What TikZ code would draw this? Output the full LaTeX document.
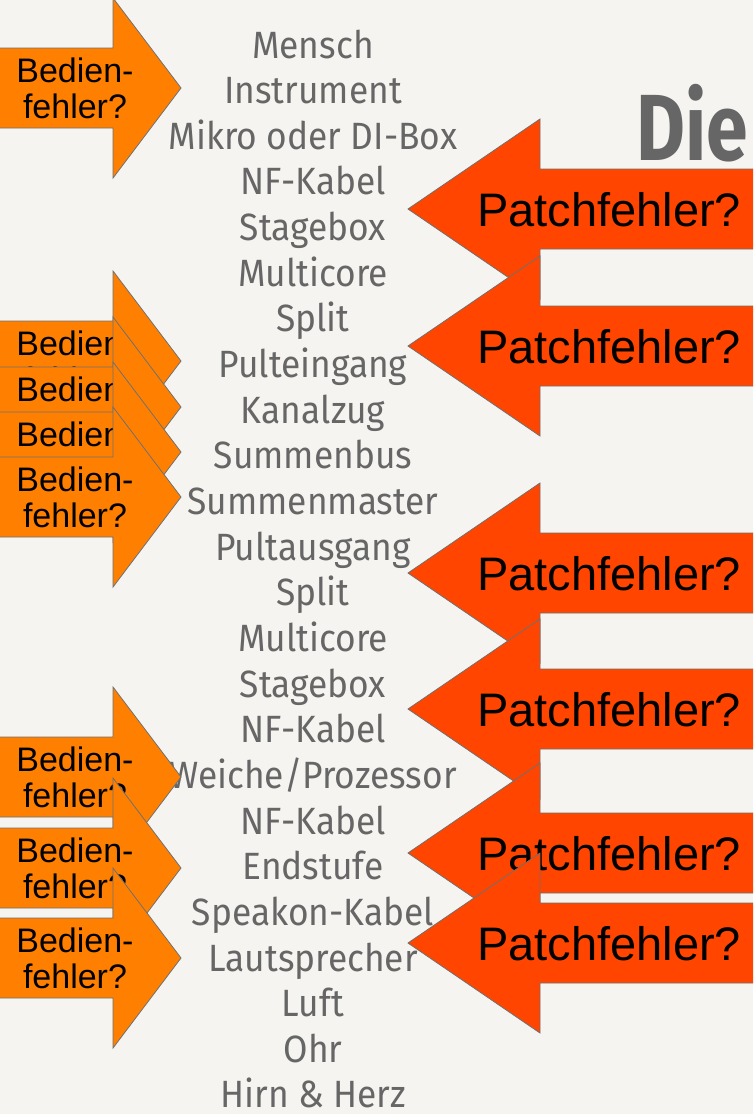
\documentclass[tikz,border=0pt]{standalone}
\usepackage{fontspec}
\setmainfont{Liberation Sans}
\newfontfamily\listfont[FakeStretch=0.93]{Fira Sans}
\newfontfamily\titlefont[FakeStretch=0.8]{Fira Sans}
\definecolor{bgc}{HTML}{F6F4F0}
\definecolor{grayc}{HTML}{666666}
\definecolor{edgec}{HTML}{707070}
\definecolor{bedc}{HTML}{FF8000}
\definecolor{patc}{HTML}{FF4500}
\tikzset{
  listitem/.style={anchor=base, inner sep=0pt, text=grayc, font=\listfont\fontsize{38}{40}\selectfont},
  titletext/.style={anchor=base west, inner sep=0pt, text=grayc, font=\titlefont\bfseries\fontsize{94}{100}\selectfont},
  bedshape/.style={fill=bedc, draw=edgec, line width=0.8pt, line join=miter},
  patshape/.style={fill=patc, draw=edgec, line width=0.8pt, line join=miter},
  bedtext/.style={anchor=base, inner sep=0pt, text=black, font=\fontsize{34}{37}\selectfont},
  pattext/.style={anchor=base west, inner sep=0pt, text=black, font=\fontsize{47}{50}\selectfont},
  bedien/.pic={
    \path[bedshape] (-5,-40) -- (113,-40) -- (113,-90) -- (181,0) -- (113,90) -- (113,40) -- (-5,40) -- cycle;
    \node[bedtext] (-a) at (75,-6) {Bedien-};
    \node[bedtext] (-b) at (75,30) {fehler?};
  },
  patch/.pic={
    \path[patshape] (408,0) -- (540,-90) -- (540,-40) -- (770,-40) -- (770,40) -- (540,40) -- (540,90) -- cycle;
    \node[pattext] (-t) at (477,17) {Patchfehler?};
  }
}
\begin{document}
\begin{tikzpicture}[x=1pt,y=-1pt]
\fill[bgc] (0,0) rectangle (753,1114);
\useasboundingbox (0,0) rectangle (753,1114);
\clip (0,0) rectangle (753,1114);
% list
\foreach \t [count=\i from 0] in {Mensch,Instrument,Mikro oder DI-Box,NF-Kabel,Stagebox,Multicore,Split,Pulteingang,Kanalzug,Summenbus,Summenmaster,Pultausgang,Split,Multicore,Stagebox,NF-Kabel,Weiche/Prozessor,NF-Kabel,Endstufe,Speakon-Kabel,Lautsprecher,Luft,Ohr,Hirn \& Herz}
  \node[listitem] (l\i) at (313,{58+45.65*\i}) {\t};
\node[titletext] (die) at (636,160) {Die};
% Bedienfehler arrows
\pic (b0) at (0,88) {bedien};
\pic (b1) at (0,361) {bedien};
\pic (b2) at (0,407) {bedien};
\pic (b3) at (0,452) {bedien};
\pic (b4) at (0,497) {bedien};
\pic (b5) at (0,777) {bedien};
\pic (b6) at (0,868) {bedien};
\pic (b7) at (0,958) {bedien};
% Patchfehler arrows
\pic (p1) at (0,209) {patch};
\pic (p2) at (0,346) {patch};
\pic (p3) at (0,573) {patch};
\pic (p4) at (0,709) {patch};
\pic (p5) at (0,853) {patch};
\pic (p6) at (0,943) {patch};
\end{tikzpicture}
\end{document}
